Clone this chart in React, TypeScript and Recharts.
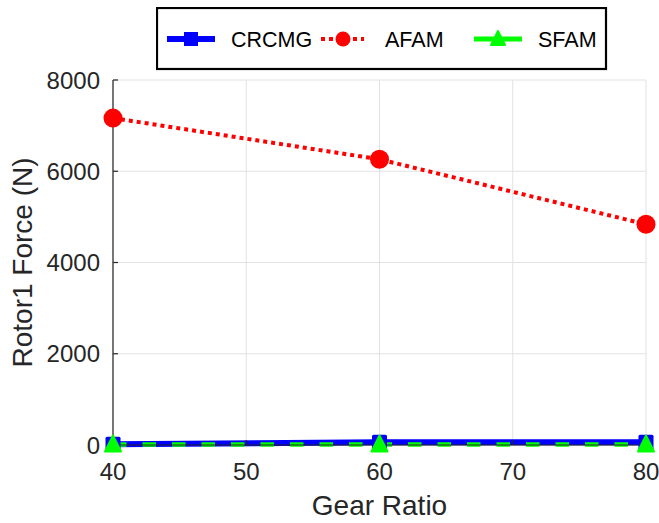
import React from 'react';
import { LineChart, Line, XAxis, YAxis, CartesianGrid, Legend } from 'recharts';

const gearRatios = [40, 60, 80];
const crcmgForce = [15, 60, 60];
const afamForce = [7165, 6262, 4837];
const sfamForce = [10, 10, 10];
const xTicks = [40, 50, 60, 70, 80];
const yTicks = [0, 2000, 4000, 6000, 8000];
const seriesNames = ['CRCMG', 'AFAM', 'SFAM'];
const xTitle = 'Gear Ratio';
const yTitle = 'Rotor1 Force (N)';

const data = gearRatios.map((g, i) => ({
  gear: g,
  CRCMG: crcmgForce[i],
  AFAM: afamForce[i],
  SFAM: sfamForce[i],
}));

const FONT = '"Liberation Sans", Arial, Helvetica, sans-serif';
const AXIS = '#262626';
const BLUE = '#0000ff';
const RED = '#ff0000';
const GREEN = '#00ff00';

const SquareDot = (p: any) => {
  const { cx, cy, index } = p;
  if (cx == null || cy == null) return <g key={`s${index}`} />;
  return <rect key={`s${index}`} x={cx - 7.5} y={cy - 7.5} width={15} height={15} rx={1.5} fill={BLUE} />;
};
const CircleDot = (p: any) => {
  const { cx, cy, index } = p;
  if (cx == null || cy == null) return <g key={`c${index}`} />;
  return <circle key={`c${index}`} cx={cx} cy={cy} r={9.5} fill={RED} />;
};
const TriDot = (p: any) => {
  const { cx, cy, index } = p;
  if (cx == null || cy == null) return <g key={`t${index}`} />;
  const pts = `${cx},${cy - 9} ${cx - 8},${cy + 7} ${cx + 8},${cy + 7}`;
  return <polygon key={`t${index}`} points={pts} fill={GREEN} stroke={GREEN} strokeWidth={2} strokeLinejoin="round" />;
};

const EmptyTick = () => <g />;

const LegendBox = () => {
  const cy = 32;
  const txt = { fontFamily: FONT, fontSize: 21.5, fill: '#000' };
  return (
    <svg width={452} height={64} style={{ display: 'block' }}>
      <rect x={1} y={1} width={449} height={61} fill="#fff" stroke="#000" strokeWidth={2.2} />
      <line x1={11} y1={cy} x2={59} y2={cy} stroke={BLUE} strokeWidth={6} />
      <rect x={35 - 7} y={cy - 7} width={14} height={14} fill={BLUE} />
      <text x={75} y={cy + 7.5} {...txt}>{seriesNames[0]}</text>
      <line x1={165} y1={cy} x2={208} y2={cy} stroke={RED} strokeWidth={4} strokeDasharray="4 4" />
      <circle cx={187} cy={cy} r={7.5} fill={RED} />
      <text x={229} y={cy + 7.5} {...txt}>{seriesNames[1]}</text>
      <line x1={318} y1={cy} x2={366} y2={cy} stroke={GREEN} strokeWidth={5} />
      <polygon points={`342,${cy - 8} 335,${cy + 6} 349,${cy + 6}`} fill={GREEN} stroke={GREEN} strokeWidth={2} strokeLinejoin="round" />
      <text x={382} y={cy + 7.5} {...txt}>{seriesNames[2]}</text>
    </svg>
  );
};

const YTitle = (props: any) => {
  const vb = props.viewBox || {};
  const x = (vb.x || 0) + 32;
  const y = (vb.y || 0) + (vb.height || 0) / 2;
  return (
    <text x={x} y={y} transform={`rotate(-90, ${x}, ${y})`} textAnchor="middle"
      style={{ fontFamily: FONT, fontSize: 28, fill: AXIS }}>{yTitle}</text>
  );
};

const XTitle = (props: any) => {
  const vb = props.viewBox || {};
  const x = (vb.x || 0) + (vb.width || 0) / 2;
  const y = (vb.y || 0) + 70;
  return (
    <text x={x} y={y} textAnchor="middle" style={{ fontFamily: FONT, fontSize: 28, fill: AXIS }}>{xTitle}</text>
  );
};

export default function App() {
  return (
    <div style={{ position: 'absolute', left: 0, top: 0, width: 659, height: 523, background: '#fff' }}>
      <LineChart width={659} height={523} data={data} margin={{ top: 80, right: 13, bottom: 0, left: 0 }}>
        <CartesianGrid xAxisId="bottom" yAxisId="left" stroke="#e2e2e2" strokeWidth={1} />
        <XAxis
          xAxisId="bottom"
          dataKey="gear"
          type="number"
          domain={[40, 80]}
          ticks={xTicks}
          height={78}
          axisLine={{ stroke: AXIS, strokeWidth: 1.2 }}
          tickLine={{ stroke: AXIS, strokeWidth: 1.2 }}
          tickSize={-5}
          tickMargin={23}
          tick={{ fill: AXIS, fontSize: 24, fontFamily: FONT }}
          label={<XTitle />}
        />
        <XAxis
          xAxisId="top"
          dataKey="gear"
          type="number"
          orientation="top"
          domain={[40, 80]}
          ticks={xTicks}
          height={0}
          axisLine={{ stroke: AXIS, strokeWidth: 1.2 }}
          tickLine={{ stroke: AXIS, strokeWidth: 1.2 }}
          tickSize={-5}
          tick={<EmptyTick />}
        />
        <YAxis
          yAxisId="left"
          type="number"
          domain={[0, 8000]}
          ticks={yTicks}
          width={113}
          axisLine={{ stroke: AXIS, strokeWidth: 1.2 }}
          tickLine={{ stroke: AXIS, strokeWidth: 1.2 }}
          tickSize={-5}
          tickMargin={18}
          tick={{ fill: AXIS, fontSize: 24, fontFamily: FONT }}
          label={<YTitle />}
        />
        <YAxis
          yAxisId="right"
          type="number"
          orientation="right"
          domain={[0, 8000]}
          ticks={yTicks}
          width={0}
          axisLine={{ stroke: AXIS, strokeWidth: 1.2 }}
          tickLine={{ stroke: AXIS, strokeWidth: 1.2 }}
          tickSize={-5}
          tick={<EmptyTick />}
        />
        <Legend
          layout="horizontal"
          verticalAlign="middle"
          align="center"
          content={<LegendBox />}
          wrapperStyle={{ position: 'absolute', left: 156, top: 7, width: 452, height: 64 }}
        />
        <Line
          xAxisId="bottom"
          yAxisId="left"
          type="linear"
          dataKey="CRCMG"
          name={seriesNames[0]}
          stroke={BLUE}
          strokeWidth={6}
          dot={SquareDot}
          activeDot={false}
          isAnimationActive={false}
        />
        <Line
          xAxisId="bottom"
          yAxisId="left"
          type="linear"
          dataKey="AFAM"
          name={seriesNames[1]}
          stroke={RED}
          strokeWidth={4}
          strokeDasharray="4 4"
          dot={CircleDot}
          activeDot={false}
          isAnimationActive={false}
        />
        <Line
          xAxisId="bottom"
          yAxisId="left"
          type="linear"
          dataKey="SFAM"
          name={seriesNames[2]}
          stroke={GREEN}
          strokeWidth={4.5}
          strokeDasharray="13.5 16"
          dot={TriDot}
          activeDot={false}
          isAnimationActive={false}
        />
      </LineChart>
    </div>
  );
}
